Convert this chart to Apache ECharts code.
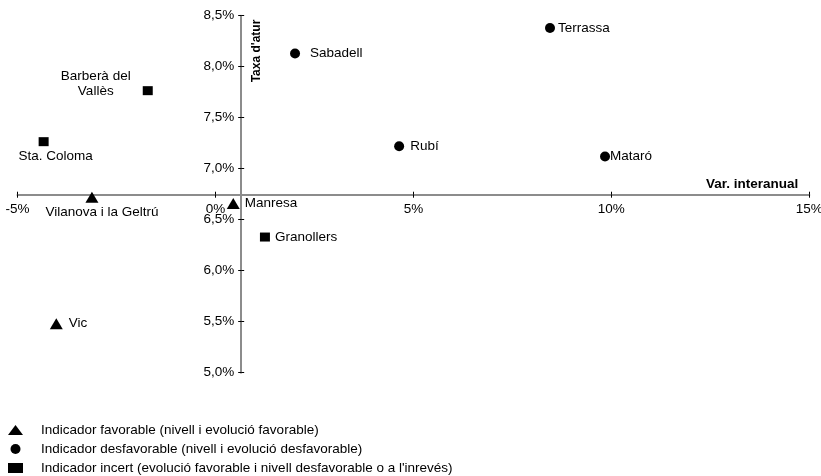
<!DOCTYPE html>
<html>
<head>
<meta charset="utf-8">
<script src="https://cdn.jsdelivr.net/npm/echarts@6/dist/echarts.min.js"></script>
<style>html,body{margin:0;padding:0;background:#fff}#chart{width:821px;height:476px}</style>
</head>
<body>
<div id="chart"></div>
<script>
// legend texts
const seriesNames = [
  'Indicador favorable (nivell i evolució favorable)',
  'Indicador desfavorable (nivell i evolució desfavorable)',
  "Indicador incert (evolució favorable i nivell desfavorable o a l'inrevés)"
]
// favorable (triangle)
const favNames = ['Vilanova i la Geltrú', 'Manresa', 'Vic']
const favVar = [-3.12, 0.45, -4.02]
const favTaxa = [6.72, 6.66, 5.48]
// desfavorable (circle)
const desNames = ['Terrassa', 'Mataró', 'Sabadell', 'Rubí']
const desVar = [8.45, 9.84, 2.01, 4.64]
const desTaxa = [8.38, 7.12, 8.13, 7.22]
// incert (square)
const incNames = ['Barberà del Vallès', 'Sta. Coloma', 'Granollers']
const incVar = [-1.71, -4.34, 1.25]
const incTaxa = [7.765, 7.265, 6.33]

const xMin = -5, xMax = 15, xStep = 5
const yMin = 5, yMax = 8.5, yStep = 0.5
const xCross = 0.65, yCross = 6.745   // where the axes cross each other

const font = "'Liberation Sans', Arial, Helvetica, sans-serif"
const ink = '#000', axisGray = '#8c8c8c'
const fs = 13.5

const G = { left: 17.5, top: 15.7, width: 791.8, height: 357, outerBoundsMode: 'none' }
const yOff = -G.width * (xCross - xMin) / (xMax - xMin)
const xOff = -G.height * (yCross - yMin) / (yMax - yMin)

// label placement per point
const labelCfg = {
  'Terrassa': { position: 'right', distance: 3 },
  'Mataró': { position: 'right', distance: 0 },
  'Sabadell': { position: 'right', distance: 10 },
  'Rubí': { position: 'right', distance: 6 },
  'Vic': { position: 'right', distance: 6 },
  'Manresa': { position: 'right', distance: 5 },
  'Granollers': { position: 'right', distance: 5 },
  'Barberà del Vallès': { position: 'inside', offset: [-52, -7], align: 'center', text: 'Barberà del\nVallès' },
  'Sta. Coloma': { position: 'inside', offset: [12, 14.5], align: 'center' },
  'Vilanova i la Geltrú': { position: 'inside', offset: [10, 15], align: 'center' }
}

const toData = (names, xs, ys) => names.map((n, i) => {
  const c = labelCfg[n] || {}
  return {
    name: n,
    value: [xs[i], ys[i]],
    label: {
      position: c.position || 'right',
      distance: c.distance,
      offset: c.offset,
      align: c.align,
      formatter: c.text || n
    }
  }
})

const mkSeries = (name, symbol, size, data) => ({
  name, type: 'scatter', symbol, symbolSize: size, data,
  itemStyle: { color: '#000', opacity: 1 },
  label: { show: true, color: ink, fontFamily: font, fontSize: fs, lineHeight: 14.5 },
  emphasis: { disabled: true }
})

const xTickBase = {
  type: 'value', min: xMin, max: xMax, interval: xStep, position: 'bottom', offset: xOff,
  splitLine: { show: false }
}
const yTickBase = {
  type: 'value', min: yMin, max: yMax, interval: yStep, position: 'left', offset: yOff,
  splitLine: { show: false }
}

const chart = echarts.init(document.getElementById('chart'))
chart.setOption({
  animation: false,
  grid: G,
  xAxis: [
    Object.assign({}, xTickBase, {
      name: 'Var. interanual',
      nameLocation: 'end',
      nameGap: -11,
      nameTextStyle: { fontFamily: font, fontSize: 13.5, fontWeight: 'bold', color: ink, align: 'right', verticalAlign: 'bottom', padding: [0, 0, 3, 0] },
      axisLine: { onZero: false, lineStyle: { color: axisGray, width: 2 } },
      axisTick: { length: 3, lineStyle: { color: '#000' } },
      axisLabel: { margin: 8, color: ink, fontFamily: font, fontSize: fs, formatter: v => v + '%' }
    }),
    Object.assign({}, xTickBase, {
      axisLine: { show: false, onZero: false },
      axisTick: { inside: true, length: 3, lineStyle: { color: '#000' } },
      axisLabel: { show: false }
    })
  ],
  yAxis: [
    Object.assign({}, yTickBase, {
      name: "Taxa d'atur",
      nameLocation: 'end',
      nameRotate: 90,
      nameGap: -4,
      nameTextStyle: { fontFamily: font, fontSize: 12, fontWeight: 'bold', color: ink, align: 'right', verticalAlign: 'top', padding: [10, 0, 0, 0] },
      axisLine: { onZero: false, lineStyle: { color: axisGray, width: 2 } },
      axisTick: { length: 3, lineStyle: { color: '#000' } },
      axisLabel: { margin: 7, color: ink, fontFamily: font, fontSize: fs, formatter: v => v.toFixed(1).replace('.', ',') + '%' }
    }),
    Object.assign({}, yTickBase, {
      axisLine: { show: false, onZero: false },
      axisTick: { inside: true, length: 3, lineStyle: { color: '#000' } },
      axisLabel: { show: false }
    })
  ],
  legend: {
    orient: 'vertical', left: 8, top: 423, padding: 0,
    itemWidth: 15, itemHeight: 10, itemGap: 5,
    selectedMode: false,
    textStyle: { color: ink, fontFamily: font, fontSize: fs, padding: [0, 0, 0, 13] },
    data: [
      { name: seriesNames[0], icon: 'triangle' },
      { name: seriesNames[1], icon: 'circle' },
      { name: seriesNames[2], icon: 'rect' }
    ]
  },
  series: [
    mkSeries(seriesNames[0], 'triangle', [13, 11], toData(favNames, favVar, favTaxa)),
    mkSeries(seriesNames[1], 'circle', 10, toData(desNames, desVar, desTaxa)),
    mkSeries(seriesNames[2], 'rect', [10, 9], toData(incNames, incVar, incTaxa))
  ]
})
</script>
</body>
</html>
